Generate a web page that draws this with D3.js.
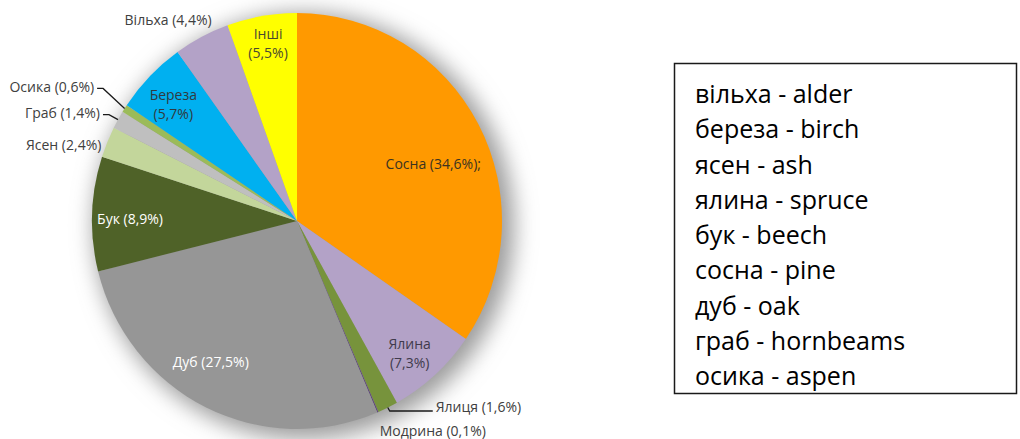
<!DOCTYPE html>
<html>
<head>
<meta charset="utf-8">
<script src="https://cdn.jsdelivr.net/npm/d3@7"></script>
<style>
  body { margin: 0; background: #fff; }
  svg { display: block; }
</style>
</head>
<body>
<svg id="chart" width="1020" height="439"></svg>
<script>
// Forest composition by tree species, % of forested area
const species = ["Сосна", "Ялина", "Ялиця", "Модрина", "Дуб", "Бук", "Ясен", "Граб", "Осика", "Береза", "Вільха", "Інші"];
const shares = [34.6, 7.3, 1.6, 0.1, 27.5, 8.9, 2.4, 1.4, 0.6, 5.7, 4.4, 5.5];
const sliceColors = ["#ff9900", "#b3a2c7", "#77933c", "#604a7b", "#969696", "#4f6228",
                     "#c3d69b", "#bfbfbf", "#9bbb59", "#00b0f0", "#b3a2c7", "#ffff00"];
const labelSuffix = [";", "", "", "", "", "", "", "", "", "", "", ""];

// Glossary shown in the box on the right
const glossary = ["вільха - alder", "береза - birch", "ясен - ash", "ялина - spruce", "бук - beech",
                  "сосна - pine", "дуб - oak", "граб - hornbeams", "осика - aspen"];

// Label placement: radial factor at the slice's mid angle plus a nudge
// two = label split over two lines, anchor = text-anchor, leader = draw a connector
const labelLayout = [
  { k: 0.74, dx: 2,   dy: 15,  two: false, anchor: "middle", fill: "#3b3320" },
  { k: 0.86, dx: -6,  dy: 0,   two: true,  anchor: "middle", fill: "#3f3a4c" },
  { k: 1.0,  dx: 48,  dy: 0,   two: false, anchor: "start",  fill: "#404040", leader: true },
  { k: 1.0,  dx: 55,  dy: 18.5,two: false, anchor: "middle", fill: "#404040" },
  { k: 0.78, dx: -15, dy: -4,  two: false, anchor: "middle", fill: "#ffffff" },
  { k: 0.815,dx: 0,   dy: 4,   two: false, anchor: "middle", fill: "#ffffff" },
  { k: 1.0,  dx: -6,  dy: 3,   two: false, anchor: "end",    fill: "#404040" },
  { k: 1.0,  dx: -18, dy: -6.5,two: false, anchor: "end",    fill: "#404040", leader: true },
  { k: 1.0,  dx: -30.5,dy: -21.5,two: false, anchor: "end",  fill: "#404040", leader: true },
  { k: 0.84, dx: 0,   dy: 4.5, two: true,  anchor: "middle", fill: "#303a40" },
  { k: 1.1,  dx: -24, dy: 1.5, two: false, anchor: "middle", fill: "#404040" },
  { k: 0.85, dx: 1,   dy: -4,  two: true,  anchor: "middle", fill: "#4a4a30" }
];

const svg = d3.select("#chart");
const cx = 297, cy = 221, rx = 205, ry = 208;
const labelFont = "'Open Sans', 'Noto Sans', sans-serif";

const fmt = v => d3.format(".1f")(v).replace(".", ",");
const polar = (a, k) => [cx + rx * k * Math.sin(a), cy - ry * k * Math.cos(a)];

// soft drop shadow behind the pie
const defs = svg.append("defs");
const blur = defs.append("filter").attr("id", "glow")
  .attr("x", "-30%").attr("y", "-30%").attr("width", "160%").attr("height", "160%");
blur.append("feGaussianBlur").attr("stdDeviation", 11);

svg.append("ellipse")
  .attr("cx", cx + 7).attr("cy", cy + 5)
  .attr("rx", rx + 5).attr("ry", ry + 5)
  .attr("fill", "#9c9c9c")
  .attr("filter", "url(#glow)");

const pie = d3.pie().sort(null).value(d => d);
const arcs = pie(shares);
const arc = d3.arc().innerRadius(0).outerRadius(rx);

svg.append("g")
  .attr("transform", `translate(${cx},${cy}) scale(1,${ry / rx})`)
  .selectAll("path")
  .data(arcs)
  .join("path")
  .attr("d", arc)
  .attr("fill", (d, i) => sliceColors[i]);

// labels
const labels = svg.append("g")
  .attr("font-family", labelFont)
  .attr("font-size", 14);

arcs.forEach((d, i) => {
  const L = labelLayout[i];
  const mid = (d.startAngle + d.endAngle) / 2;
  const p = polar(mid, L.k);
  const x = p[0] + L.dx, y = p[1] + L.dy;
  const pct = `(${fmt(shares[i])}%)${labelSuffix[i]}`;
  const t = labels.append("text")
    .attr("x", x).attr("y", y)
    .attr("text-anchor", L.anchor)
    .attr("fill", L.fill);
  if (L.two) {
    t.append("tspan").attr("x", x).attr("dy", "-0.3em").text(species[i]);
    t.append("tspan").attr("x", x).attr("dy", "1.35em").text(pct);
  } else {
    t.attr("dy", "0.35em").text(`${species[i]} ${pct}`);
  }
  if (L.leader) {
    const edge = polar(mid, 1.0);
    let pts;
    if (L.anchor === "start") {
      pts = [edge, [edge[0] + 2, y + 3.5], [x - 3, y + 3.5]];
    } else {
      pts = [edge, [x + 9, y + 1.5], [x + 3, y + 1.5]];
    }
    svg.append("path")
      .attr("d", d3.line()(pts))
      .attr("fill", "none")
      .attr("stroke", "#1a1a1a")
      .attr("stroke-width", 1.3);
  }
});

// glossary box
const box = svg.append("g");
box.append("rect")
  .attr("x", 674.5).attr("y", 63.5)
  .attr("width", 342).attr("height", 330)
  .attr("fill", "#fff")
  .attr("stroke", "#1a1a1a")
  .attr("stroke-width", 1.5);

const lineY = d3.scaleLinear().domain([0, glossary.length - 1]).range([103, 385]);
box.selectAll("text")
  .data(glossary)
  .join("text")
  .attr("x", 695)
  .attr("y", (d, i) => lineY(i))
  .attr("font-family", labelFont)
  .attr("font-size", 25)
  .attr("fill", "#000")
  .text(d => d);
</script>
</body>
</html>
